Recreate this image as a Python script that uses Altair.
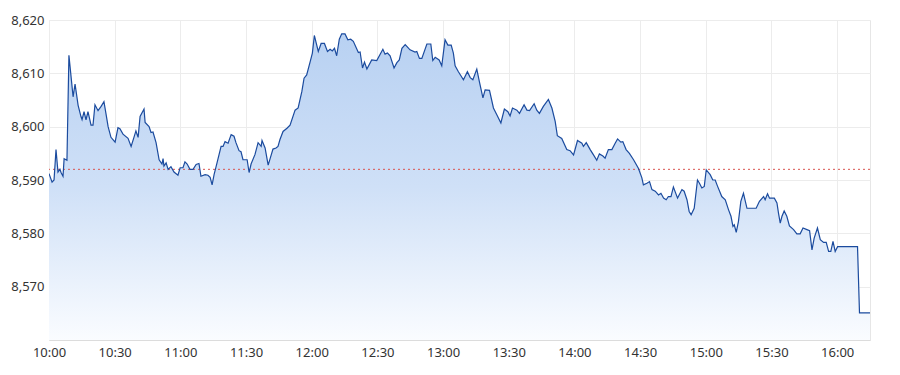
import altair as alt
import pandas as pd

# minutes after 10:00 and index level
m_a = [0, 1.4, 2.3, 3.2, 4.1, 5.0, 5.5, 6.4, 6.9, 8.2,
       9.1, 11.0, 11.9, 13.3, 14.6, 15.1, 16.0, 16.9, 17.8, 19.2,
       20.1, 21.0, 22.4, 23.8, 25.1, 26.0, 27.0, 28.3, 30.2, 31.5,
       32.4, 33.8, 36.1, 37.5, 38.8, 39.7, 40.7, 41.6, 43.4, 43.9,
       45.7, 46.6, 47.5, 48.9, 50.3, 51.6, 52.1, 52.5, 53.5, 54.4,
       55.7, 57.1, 58.9, 59.9, 61.2, 62.1, 63.1, 64.4, 65.8, 67.2,
       68.5, 69.4, 71.3, 72.6, 73.6, 74.5, 75.4, 76.8, 78.6, 79.5,
       80.4, 81.8, 83.2, 84.5, 85.4, 86.8, 87.7, 88.6, 90.5, 91.4,
       92.3, 94.1, 95.5, 96.9, 97.3, 98.7, 100.1, 101.0, 102.3, 103.7,
       104.6, 105.5, 106.9, 108.7, 110.1, 112.4, 113.8]
p_a = [8591.2, 8589.6, 8590.0, 8595.7, 8591.5, 8592.0, 8591.4, 8590.7, 8594.0, 8593.7,
       8613.4, 8605.6, 8608.0, 8604.0, 8601.9, 8601.3, 8602.8, 8601.3, 8602.8, 8600.3,
       8600.3, 8604.1, 8603.0, 8603.8, 8604.7, 8602.5, 8600.0, 8598.0, 8597.1, 8599.8,
       8599.6, 8598.6, 8597.8, 8596.3, 8598.0, 8599.2, 8598.0, 8601.9, 8603.3, 8600.8,
       8600.0, 8598.9, 8599.0, 8597.0, 8593.8, 8593.0, 8594.0, 8592.6, 8593.2, 8592.0,
       8592.5, 8591.5, 8590.9, 8592.3, 8592.3, 8593.4, 8593.0, 8592.0, 8592.0, 8592.9,
       8593.1, 8590.7, 8591.0, 8590.9, 8590.5, 8589.1, 8591.0, 8593.3, 8596.3, 8596.3,
       8597.2, 8596.9, 8598.5, 8598.2, 8597.0, 8595.5, 8595.3, 8593.8, 8593.8, 8591.4,
       8593.0, 8594.8, 8597.0, 8596.3, 8597.4, 8596.0, 8592.8, 8594.0, 8595.8, 8596.0,
       8596.3, 8597.6, 8599.1, 8599.7, 8600.3, 8603.1, 8603.5]

m_b = [115.5, 116.5, 117.7, 119.3, 120.3, 121.2, 123.0, 124.3, 125.8, 127.2,
       128.4, 129.4, 130.4, 131.4, 132.6, 133.7, 135.2, 136.5, 137.8, 139.0,
       141.3, 142.1, 143.2, 144.1, 145.2, 147.4, 149.7, 152.5, 153.5, 154.6,
       155.8, 157.6, 158.9, 160.0, 161.2, 162.7, 164.9, 167.2, 168.0, 169.2,
       170.3, 172.6, 174.4, 175.3, 176.4, 178.2, 179.4, 180.9, 182.2, 183.7,
       184.7, 185.5, 187.0, 189.3, 191.1, 192.4, 193.6, 195.4, 196.6, 198.2,
       199.2, 201.2, 203.0, 204.6, 206.4, 208.0, 209.6, 210.6, 211.7, 213.7,
       214.9, 217.0, 218.3, 219.5, 221.6, 222.8, 224.0, 225.8, 228.1, 229.7,
       231.2, 232.2, 234.2, 236.5, 238.0, 239.6, 241.4, 243.4, 244.1, 245.4,
       247.2, 248.7, 250.2, 251.4]
p_b = [8606.6, 8609.1, 8609.7, 8612.2, 8613.8, 8617.1, 8614.1, 8615.6, 8615.6, 8614.1,
       8614.5, 8614.2, 8614.7, 8613.3, 8616.4, 8617.4, 8617.4, 8616.3, 8616.4, 8616.0,
       8613.9, 8614.0, 8611.0, 8612.1, 8610.8, 8612.5, 8612.4, 8614.5, 8613.6, 8613.8,
       8613.3, 8611.0, 8612.0, 8612.5, 8614.7, 8615.4, 8614.4, 8614.0, 8614.1, 8612.8,
       8612.8, 8615.5, 8615.5, 8612.4, 8613.0, 8612.5, 8611.4, 8616.3, 8615.3, 8615.3,
       8613.8, 8611.4, 8610.3, 8608.8, 8610.3, 8609.2, 8608.8, 8610.8, 8608.4, 8605.4,
       8606.9, 8606.8, 8603.5, 8602.2, 8600.7, 8603.3, 8602.8, 8602.0, 8603.5, 8603.1,
       8602.5, 8604.1, 8603.1, 8603.0, 8604.3, 8603.1, 8602.5, 8603.8, 8605.1, 8603.5,
       8601.0, 8598.3, 8597.8, 8595.7, 8595.5, 8594.7, 8597.4, 8596.9, 8596.3, 8597.0,
       8595.7, 8594.7, 8593.7, 8594.9]

m_c = [253.0, 254.0, 255.5, 257.1, 258.6, 259.7, 261.2, 262.1, 263.6, 265.1,
       267.0, 269.2, 270.8, 271.5, 273.1, 274.3, 275.4, 276.9, 278.4, 279.5,
       280.7, 281.9, 282.9, 284.1, 285.2, 287.1, 289.1, 290.1, 291.4, 292.4,
       293.3, 294.7, 296.2, 297.1, 298.2, 299.3, 300.2, 302.0, 303.2, 304.3,
       305.3, 307.3, 308.9, 310.4, 311.5, 312.4, 313.0, 313.9, 314.9, 316.0,
       317.2, 318.8, 320.6, 323.0, 324.5, 326.4, 327.1, 328.2, 329.1, 331.3,
       332.5, 333.2, 334.0, 334.8, 335.8, 337.0, 338.2, 340.1, 341.6, 343.1,
       344.4, 346.2, 347.4, 348.5, 349.5, 351.0, 352.3, 353.8, 355.0, 356.1,
       357.1, 358.1, 359.1, 360.2, 369.3, 370.2, 375.0]
p_c = [8594.5, 8594.1, 8595.7, 8595.7, 8596.9, 8597.7, 8597.1, 8597.2, 8595.7, 8595.0,
       8593.8, 8592.2, 8590.4, 8589.1, 8589.4, 8589.7, 8588.2, 8587.9, 8587.2, 8587.5,
       8586.6, 8586.3, 8586.9, 8586.9, 8588.7, 8586.6, 8588.2, 8587.9, 8586.3, 8584.1,
       8583.5, 8584.7, 8590.0, 8589.4, 8588.5, 8588.8, 8591.9, 8591.0, 8590.0, 8590.0,
       8588.9, 8586.9, 8586.3, 8584.4, 8583.2, 8581.3, 8581.6, 8580.2, 8582.2, 8586.0,
       8587.5, 8584.7, 8584.7, 8584.7, 8586.0, 8586.9, 8586.3, 8587.4, 8586.6, 8586.6,
       8585.7, 8583.8, 8581.9, 8583.2, 8584.2, 8583.2, 8581.4, 8580.7, 8579.9, 8579.9,
       8581.0, 8580.7, 8580.5, 8576.9, 8579.1, 8581.0, 8578.8, 8578.3, 8578.3, 8576.6,
       8576.6, 8578.5, 8576.6, 8577.5, 8577.5, 8565.1, 8565.1]

prev_close = [8592.0]
y_ticks = [8570, 8580, 8590, 8600, 8610, 8620]
x_ticks = [0, 30, 60, 90, 120, 150, 180, 210, 240, 270, 300, 330, 360]

df = pd.DataFrame({"m": m_a + m_b + m_c, "p": p_a + p_b + p_c})
ref = pd.DataFrame({"p": prev_close})

FONT = "Noto Sans"
x_enc = alt.X("m:Q", scale=alt.Scale(domain=[0, 375], nice=False, zero=False),
              axis=alt.Axis(values=x_ticks, title=None,
                            labelExpr="(floor(datum.value/60)+10) + ':' + (datum.value % 60 == 0 ? '00' : '30')",
                            grid=True, gridColor="#ececec", domainColor="#dcdcdc",
                            ticks=False, labelPadding=6, labelFontSize=13,
                            labelFlush=False, labelOverlap=False,
                            labelColor="#333333", labelFont=FONT))
y_scale = alt.Scale(domain=[8560, 8620], nice=False, zero=False)
y_enc = alt.Y("p:Q", scale=y_scale,
              axis=alt.Axis(values=y_ticks, title=None, format=",.0f",
                            grid=True, gridColor="#ececec", domain=False,
                            ticks=False, labelPadding=5, labelFontSize=13,
                            labelFlush=False, labelOverlap=False,
                            labelColor="#333333", labelFont=FONT))

grad = alt.Gradient(
    gradient="linear",
    stops=[alt.GradientStop(color="#b8d1f2", offset=0),
           alt.GradientStop(color="#cfe0f7", offset=0.5),
           alt.GradientStop(color="#fafcff", offset=1)],
    x1=0, x2=0, y1=0, y2=1)

area = alt.Chart(df).mark_area(color=grad, clip=True).encode(
    x=x_enc, y=y_enc, y2=alt.datum(8560))
line = alt.Chart(df).mark_line(color="#1b4b9e", strokeWidth=1.2, clip=True).encode(
    x=x_enc, y=y_enc)
rule = alt.Chart(ref).mark_rule(color="#d9534f", strokeWidth=1, strokeDash=[2, 3]).encode(
    y=y_enc)

chart = alt.layer(area, rule, line).properties(
    width=821, height=320,
    autosize=alt.AutoSizeParams(type="none"),
    padding={"left": 49, "top": 20, "right": 30, "bottom": 35},
    background="white",
).configure_view(stroke="#e6e6e6")

chart.save("out.html", embed_options={"renderer": "svg", "actions": False})
